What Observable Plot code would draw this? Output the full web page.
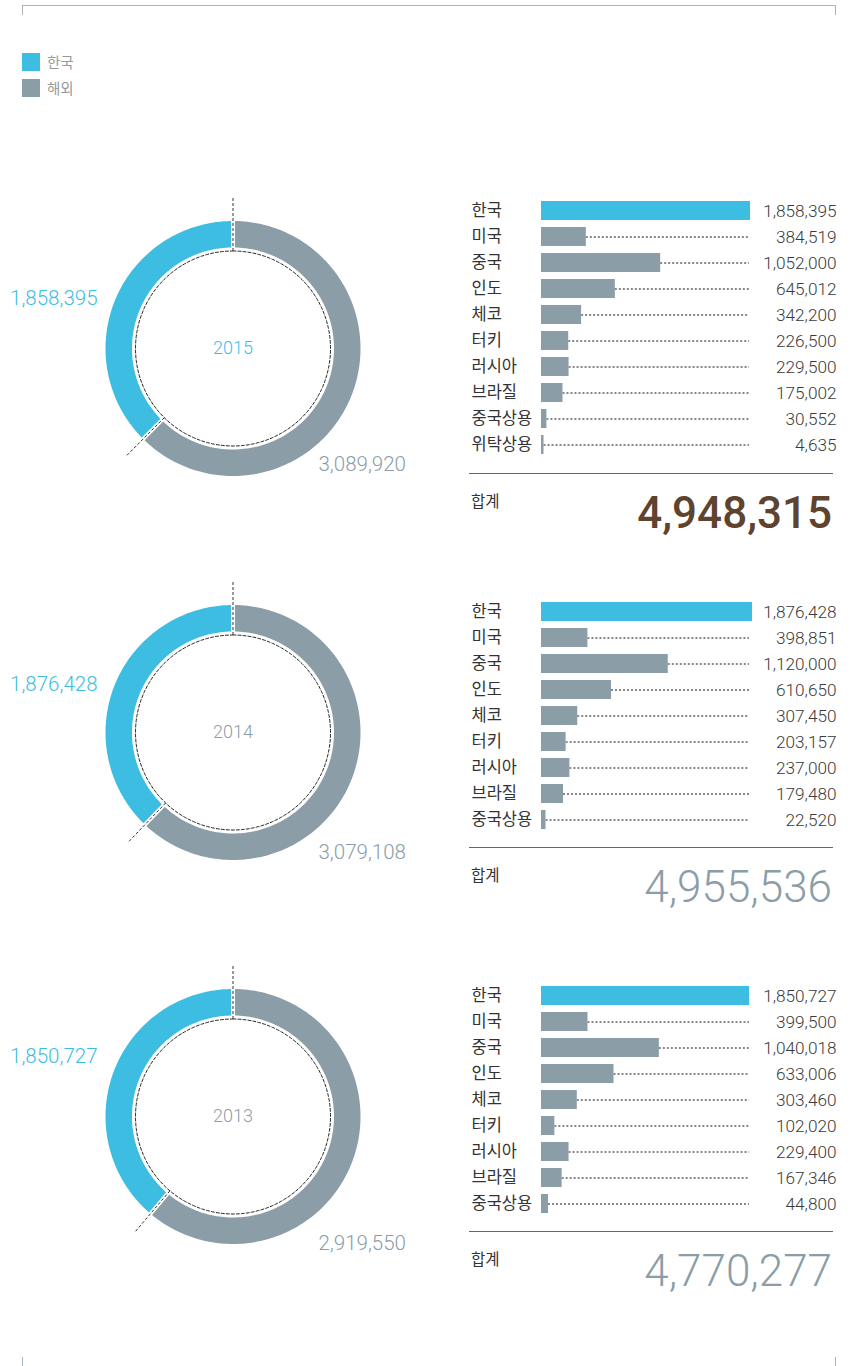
<!DOCTYPE html>
<html><head><meta charset="utf-8">
<script src="https://cdn.jsdelivr.net/npm/d3@7"></script>
<script src="https://cdn.jsdelivr.net/npm/@observablehq/plot@0.6"></script>
<style>
body{margin:0;background:#fff;}
#root{position:relative;width:854px;height:1366px;overflow:hidden;font-family:Roboto,"Noto Sans CJK KR",sans-serif;}
.abs{position:absolute;}
.abs svg{display:block;}
</style></head><body><div id="root"></div>
<script>
// ---------- data ----------
const years = [2015, 2014, 2013];
const legendLabels = ["한국", "해외"];
const domestic = [1858395, 1876428, 1850727];
const overseas = [3089920, 3079108, 2919550];
const totals = [4948315, 4955536, 4770277];
const categories2015 = ["한국","미국","중국","인도","체코","터키","러시아","브라질","중국상용","위탁상용"];
const values2015 = [1858395, 384519, 1052000, 645012, 342200, 226500, 229500, 175002, 30552, 4635];
const categories2014 = ["한국","미국","중국","인도","체코","터키","러시아","브라질","중국상용"];
const values2014 = [1876428, 398851, 1120000, 610650, 307450, 203157, 237000, 179480, 22520];
const categories2013 = ["한국","미국","중국","인도","체코","터키","러시아","브라질","중국상용"];
const values2013 = [1850727, 399500, 1040018, 633006, 303460, 102020, 229400, 167346, 44800];
const totalLabel = "합계";

// ---------- style / layout ----------
const CYAN = "#3dbde2", GREY = "#8b9da7", BROWN = "#5e432f";
const donutCenterY = [348, 732, 1116];
const barFirstY = [209, 610, 994];
const leftLabelDy = [-50, -48, -60];
const rightLabelDy = [116, 120, 127];
const Ro = 127.5, Ri = 101, Rdash = 97.5, Rlead = 151, CX = 232.5;
const STEP = 26.4, PAD = 0.28;
const fmt = d3.format(",");
const root = document.getElementById("root");

function place(el, left, top) {
  const d = document.createElement("div");
  d.className = "abs";
  d.style.left = left + "px"; d.style.top = top + "px";
  d.appendChild(el); root.appendChild(d); return d;
}
function box(left, top, w, h, css) {
  const d = document.createElement("div");
  d.className = "abs";
  Object.assign(d.style, {left: left+"px", top: top+"px", width: w+"px", height: h+"px"}, css);
  root.appendChild(d); return d;
}

// frame
box(22, 5, 813, 0, {borderTop: "1.5px solid #a9b5bc"});
box(21.5, 5, 0, 10, {borderLeft: "1.5px solid #a9b5bc"});
box(834.5, 5, 0, 10, {borderLeft: "1.5px solid #a9b5bc"});
box(21.5, 1357, 0, 10, {borderLeft: "1.5px solid #a9b5bc"});
box(834.5, 1357, 0, 10, {borderLeft: "1.5px solid #a9b5bc"});

// legend
[CYAN, GREY].forEach((c, i) => {
  box(22, 53 + i*26, 18, 18, {background: c});
  const t = box(47, 53 + i*26, 60, 18, {fontSize: "14.5px", lineHeight: "18px", color: "#999", fontFamily: "'Noto Sans CJK KR',sans-serif", fontWeight: "400"});
  t.textContent = legendLabels[i];
});

function arcPts(a0, a1, part) {
  const g = 2, N = 160, pts = [];
  const o0 = a0 + g/Ro, o1 = a1 - g/Ro, i0 = a0 + g/Ri, i1 = a1 - g/Ri;
  for (let i = 0; i <= N; i++) { const a = o0 + (o1-o0)*i/N; pts.push({part, x: Ro*Math.sin(a), y: Ro*Math.cos(a)}); }
  for (let i = N; i >= 0; i--) { const a = i0 + (i1-i0)*i/N; pts.push({part, x: Ri*Math.sin(a), y: Ri*Math.cos(a)}); }
  return pts;
}

const catsList = [categories2015, categories2014, categories2013];
const valsList = [values2015, values2014, values2013];

years.forEach((year, k) => {
  // ---------- donut ----------
  const cy = donutCenterY[k];
  const total = domestic[k] + overseas[k];
  const aSplit = -2*Math.PI*domestic[k]/total;
  const ring = [...arcPts(aSplit, 0, legendLabels[0]), ...arcPts(0, 2*Math.PI + aSplit, legendLabels[1])];
  const circ = d3.range(0, 360, 1).map(deg => ({x: Rdash*Math.sin(deg*Math.PI/180), y: Rdash*Math.cos(deg*Math.PI/180)}));
  const leads = [0, aSplit].map(a => ({x1: Rdash*Math.sin(a), y1: Rdash*Math.cos(a), x2: Rlead*Math.sin(a), y2: Rlead*Math.cos(a)}));
  const donut = Plot.plot({
    width: 460, height: 380, margin: 0,
    style: {fontFamily: "Roboto, 'Noto Sans CJK KR', sans-serif", background: "transparent", overflow: "visible"},
    x: {domain: [-CX, 460 - CX], range: [0, 460], axis: null},
    y: {domain: [-190, 190], range: [380, 0], axis: null},
    color: {domain: legendLabels, range: [CYAN, GREY]},
    marks: [
      Plot.line(ring, {x: "x", y: "y", z: "part", fill: "part", stroke: "none"}),
      Plot.line(circ, {x: "x", y: "y", curve: "linear-closed", stroke: "#222", strokeWidth: 1, strokeDasharray: "3,2"}),
      Plot.link(leads, {x1: "x1", y1: "y1", x2: "x2", y2: "y2", stroke: "#333", strokeWidth: 1, strokeDasharray: "3,2"}),
      Plot.text([year], {x: () => 0, y: () => 0, text: d => String(d), fontSize: 18, fontWeight: 300, fill: k === 0 ? CYAN : GREY}),
      Plot.text([domestic[k]], {x: () => 0, y: () => 0, dx: -135.5, dy: leftLabelDy[k], text: d => fmt(d), textAnchor: "end", fontSize: 20.5, fontWeight: 300, fill: CYAN}),
      Plot.text([overseas[k]], {x: () => 0, y: () => 0, dx: 85.5, dy: rightLabelDy[k], text: d => fmt(d), textAnchor: "start", fontSize: 20.5, fontWeight: 300, fill: GREY})
    ]
  });
  place(donut, 0, cy - 190);

  // ---------- bars ----------
  const cats = catsList[k], vals = valsList[k];
  const rows = cats.map((c, i) => ({cat: c, value: vals[i]}));
  const n = cats.length;
  const top0 = barFirstY[k] - 30;
  const y0 = 30 - STEP*(PAD + (1-PAD)/2);
  const y1 = y0 + STEP*(n + PAD);
  const H = Math.ceil(y1 + 6);
  const maxV = values2015[0];
  const bars = Plot.plot({
    width: 380, height: H, marginTop: 0, marginBottom: 0, marginLeft: 11, marginRight: 4,
    style: {fontFamily: "Roboto, 'Noto Sans CJK KR', sans-serif", background: "transparent", overflow: "visible"},
    x: {domain: [0, maxV], range: [81, 288], axis: null},
    y: {domain: cats, range: [y0, y1], padding: PAD, axis: null},
    marks: [
      Plot.ruleY(rows.filter(d => d.cat !== legendLabels[0]), {y: "cat", x1: "value", x2: () => maxV, insetLeft: 2, insetRight: -1, stroke: "#111", strokeWidth: 1.1, strokeDasharray: "2,2"}),
      Plot.barX(rows, {y: "cat", x1: () => 0, x2: "value", fill: d => d.cat === legendLabels[0] ? CYAN : GREY, insetRight: -2}),
      Plot.text(rows, {y: "cat", text: "cat", frameAnchor: "left", textAnchor: "start", fontSize: 16.5, fill: "#333", fontFamily: "'Noto Sans CJK KR', sans-serif", fontWeight: 400}),
      Plot.text(rows, {y: "cat", text: d => fmt(d.value), frameAnchor: "right", textAnchor: "end", fontSize: 17.2, fill: "#3a3a3a", fontWeight: 300})
    ]
  });
  place(bars, 460, top0);

  // separator + totals
  const sepY = barFirstY[k] + (n-1)*STEP + 27;
  box(469, sepY - 0.75, 364, 0, {borderTop: "1.5px solid #666"});
  const tl = box(471, sepY + 15, 60, 22, {fontSize: "15.5px", lineHeight: "22px", color: "#333", fontFamily: "'Noto Sans CJK KR',sans-serif", fontWeight: "400"});
  tl.textContent = totalLabel;
  const tv = box(500, sepY + 17, 332, 44, {fontSize: "44px", lineHeight: "44px", textAlign: "right", whiteSpace: "nowrap",
    color: k === 0 ? BROWN : GREY, fontWeight: k === 0 ? "500" : "300", fontFamily: "Roboto, sans-serif"});
  tv.textContent = fmt(totals[k]);
});
</script></body></html>
